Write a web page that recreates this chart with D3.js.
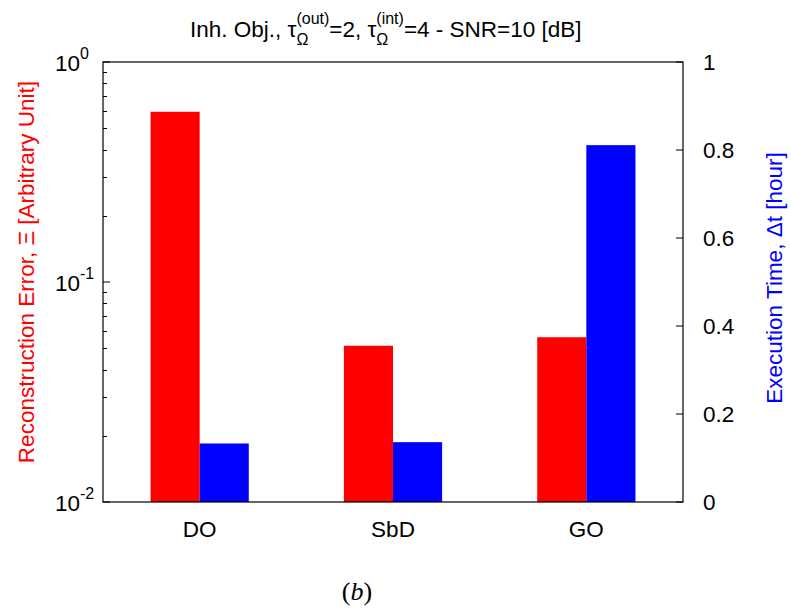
<!DOCTYPE html>
<html><head><meta charset="utf-8">
<script src="https://cdn.jsdelivr.net/npm/d3@7"></script>
<style>body{margin:0;background:#fff}svg{display:block}</style>
</head><body>
<script>
const categories = ["DO", "SbD", "GO"];
const errorValues = [0.594, 0.0513, 0.0561];
const timeValues = [0.133, 0.136, 0.811];
const logTicks = [1e-2, 1e-1, 1e0];
const logTickExps = ["-2", "-1", "0"];
const timeTicks = [0, 0.2, 0.4, 0.6, 0.8, 1];
const timeTickLabels = ["0", "0.2", "0.4", "0.6", "0.8", "1"];

const W = 791, H = 610;
const m = {l: 103, r: 683, t: 62, b: 502};
const FS = 22.5, FSS = 16;
const SANS = "'Liberation Sans', Arial, sans-serif";
const svg = d3.select("body").append("svg").attr("width", W).attr("height", H)
  .style("font-family", SANS);

const x = d3.scaleBand().domain(categories).range([m.l, m.r]);
const yL = d3.scaleLog().domain([1e-2, 1]).range([m.b, m.t]);
const yR = d3.scaleLinear().domain([0, 1]).range([m.b, m.t]);
const barW = x.bandwidth() * 0.254;

// bars
const g = svg.append("g");
g.selectAll("rect.err").data(categories).enter().append("rect")
  .attr("x", d => x(d) + x.bandwidth()/2 - barW)
  .attr("y", (d,i) => yL(errorValues[i]))
  .attr("width", barW)
  .attr("height", (d,i) => m.b - yL(errorValues[i]))
  .attr("fill", "#ff0000");
g.selectAll("rect.time").data(categories).enter().append("rect")
  .attr("x", d => x(d) + x.bandwidth()/2)
  .attr("y", (d,i) => yR(timeValues[i]))
  .attr("width", barW)
  .attr("height", (d,i) => m.b - yR(timeValues[i]))
  .attr("fill", "#0000ff");

// frame
svg.append("rect").attr("x", m.l).attr("y", m.t).attr("width", m.r - m.l).attr("height", m.b - m.t)
  .attr("fill", "none").attr("stroke", "#000").attr("stroke-width", 1.2);

// left log axis ticks (major + minor)
const minor = [];
for (let e = -2; e < 0; e++) for (let k = 2; k <= 9; k++) minor.push(k * Math.pow(10, e));
svg.append("g").selectAll("line").data(minor).enter().append("line")
  .attr("x1", m.l).attr("x2", m.l + 4)
  .attr("y1", d => Math.round(yL(d)) + 0.5).attr("y2", d => Math.round(yL(d)) + 0.5)
  .attr("stroke", "#000").attr("stroke-width", 1);
svg.append("g").selectAll("line").data(logTicks).enter().append("line")
  .attr("x1", m.l).attr("x2", m.l + 7)
  .attr("y1", d => yL(d)).attr("y2", d => yL(d))
  .attr("stroke", "#000").attr("stroke-width", 1);
const ll = svg.append("g").selectAll("text").data(logTicks).enter().append("text")
  .attr("x", 55).attr("y", d => yL(d) + 9)
  .attr("font-size", FS).attr("fill", "#000");
ll.append("tspan").text("10");
ll.append("tspan").attr("dy", -12).attr("font-size", FSS).text((d,i) => logTickExps[i]);

// right axis
svg.append("g").selectAll("line").data(timeTicks).enter().append("line")
  .attr("x1", m.r).attr("x2", m.r - 7)
  .attr("y1", d => yR(d)).attr("y2", d => yR(d))
  .attr("stroke", "#000").attr("stroke-width", 1);
svg.append("g").selectAll("text").data(timeTicks).enter().append("text")
  .attr("x", 703).attr("y", d => yR(d) + 8)
  .attr("font-size", FS).attr("fill", "#000")
  .text((d,i) => timeTickLabels[i]);

// x labels
svg.append("g").selectAll("text").data(categories).enter().append("text")
  .attr("x", d => x(d) + x.bandwidth()/2).attr("y", 537)
  .attr("text-anchor", "middle").attr("font-size", FS).attr("fill", "#000")
  .text(d => d);

// title
const t = svg.append("text").attr("x", 190).attr("y", 37).attr("font-size", FS).attr("fill", "#000");
t.append("tspan").text("Inh. Obj., τ");
t.append("tspan").attr("dy", 8).attr("font-size", FSS).text("Ω");
t.append("tspan").attr("dx", -12).attr("dy", -21).attr("font-size", FSS).text("(out)");
t.append("tspan").attr("dy", 13).text("=2, τ");
t.append("tspan").attr("dy", 8).attr("font-size", FSS).text("Ω");
t.append("tspan").attr("dx", -12).attr("dy", -21).attr("font-size", FSS).text("(int)");
t.append("tspan").attr("dy", 13).text("=4 - SNR=10 [dB]");

// axis labels
svg.append("text").attr("transform", "translate(34,272) rotate(-90)")
  .attr("text-anchor", "middle").attr("font-size", FS).attr("fill", "#ff0000")
  .text("Reconstruction Error, Ξ [Arbitrary Unit]");
svg.append("text").attr("transform", "translate(782,278) rotate(-90)")
  .attr("text-anchor", "middle").attr("font-size", FS).attr("fill", "#0000ff")
  .text("Execution Time, Δt [hour]");

// (b)
const b = svg.append("text").attr("x", 357).attr("y", 600).attr("text-anchor", "middle")
  .style("font-family", "'Liberation Serif', 'Times New Roman', serif").attr("font-size", 26).attr("fill", "#000");
b.append("tspan").text("(");
b.append("tspan").attr("font-style", "italic").text("b");
b.append("tspan").text(")");
</script>
</body></html>
